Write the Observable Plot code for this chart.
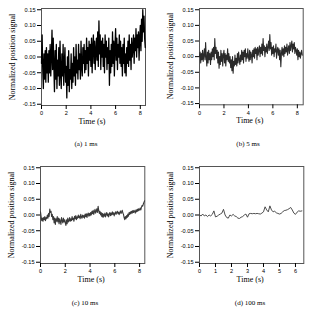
<!DOCTYPE html>
<html><head><meta charset="utf-8">
<script src="https://cdn.jsdelivr.net/npm/d3@7"></script>
<script src="https://cdn.jsdelivr.net/npm/@observablehq/plot@0.6"></script>
<style>
body{margin:0;background:#fff;}
#wrap{position:relative;width:319px;height:311px;overflow:hidden;background:#fff;}
.p{position:absolute;overflow:visible;}
.lbl{position:absolute;font-family:"Liberation Serif",serif;color:#000;white-space:nowrap;line-height:1;}
.cap{font-size:7px;transform:translate(-50%,-50%);}
.xl{font-size:8px;transform:translate(-50%,-50%);}
.yl{font-size:8px;transform:translate(-50%,-50%) rotate(-90deg);}
</style></head><body><div id="wrap"></div>
<script>
const yTicks = [-0.15, -0.10, -0.05, 0.00, 0.05, 0.10, 0.15];
const yLabel = "Normalized position signal";
const xLabel = "Time (s)";
const captions = ["(a) 1 ms", "(b) 5 ms", "(c) 10 ms", "(d) 100 ms"];
const xTicksA = [0, 2, 4, 6, 8];
const xTicksB = [0, 2, 4, 6, 8];
const xTicksC = [0, 2, 4, 6, 8];
const xTicksD = [0, 1, 2, 3, 4, 5, 6];
const dtA = 0.05, dtB = 0.05, dtC = 0.05, dtD = 0.1;

const valuesA = [
-0.02,0.07,-0.04,-0.10,0.01,-0.07,0.02,-0.08,0.03,-0.05,
0.01,-0.08,0.02,-0.05,0.04,-0.06,0.00,0.085,-0.04,0.06,
-0.03,-0.11,0.02,-0.07,0.04,-0.10,-0.01,-0.06,0.03,-0.09,
0.05,-0.05,-0.10,0.01,-0.06,0.04,-0.09,-0.02,0.03,-0.08,
-0.03,-0.13,0.00,-0.09,0.02,-0.11,-0.04,-0.07,0.01,-0.10,
-0.02,-0.08,0.03,-0.06,0.00,-0.09,0.04,-0.05,-0.01,-0.07,
0.04,-0.04,0.01,-0.07,0.05,-0.03,-0.06,0.03,-0.02,0.04,
-0.05,0.02,-0.04,0.06,-0.02,0.03,-0.06,0.05,-0.01,0.04,
-0.03,0.06,-0.05,0.03,0.07,-0.02,0.05,-0.04,0.02,0.06,
-0.01,0.08,-0.03,0.115,0.01,0.07,-0.04,0.05,0.00,0.06,
-0.03,0.04,-0.05,0.07,0.00,0.05,-0.04,0.03,-0.02,0.06,
-0.09,0.02,-0.05,0.04,-0.03,0.08,-0.02,0.05,-0.06,0.03,
0.09,-0.01,0.06,-0.04,0.04,0.00,0.07,-0.02,0.05,-0.03,
0.03,-0.06,0.04,-0.02,0.06,-0.05,0.01,-0.06,0.03,-0.02,
0.05,-0.03,0.07,-0.01,0.04,-0.04,0.06,0.00,0.03,0.07,
-0.02,0.06,0.02,0.09,0.00,0.07,0.03,0.08,-0.01,0.06,
0.10,0.02,0.12,0.05,0.15,0.08,0.13,0.06,0.03
];
const valuesB = [
0.00,0.015,-0.02,0.01,-0.01,0.02,-0.015,0.005,0.025,-0.01,
0.045,0.00,-0.03,0.015,-0.02,0.02,-0.01,0.01,-0.025,0.015,
-0.01,0.025,0.00,0.03,-0.01,0.058,0.01,0.03,-0.005,0.02,
-0.02,0.015,-0.037,0.00,-0.025,0.02,-0.015,0.01,-0.03,0.005,
0.02,-0.02,0.01,-0.03,0.005,-0.01,0.025,-0.015,0.01,-0.02,
0.00,-0.035,-0.01,-0.045,0.00,-0.053,-0.015,-0.03,0.005,-0.025,
-0.005,-0.03,0.01,-0.02,0.015,-0.01,-0.025,0.005,-0.015,0.02,
-0.01,0.015,-0.02,0.02,0.00,0.025,-0.015,0.01,-0.005,0.025,
0.00,-0.015,0.02,-0.01,0.015,0.005,-0.02,0.02,0.00,0.025,
-0.005,0.03,0.01,0.025,-0.01,0.03,0.005,0.02,0.035,0.00,
0.03,0.01,0.04,0.005,0.058,0.02,0.035,0.00,0.03,0.015,
0.04,0.01,0.03,0.05,0.02,0.071,0.025,0.045,0.005,0.03,
0.01,0.035,0.00,0.025,0.015,0.04,-0.005,0.02,0.03,0.005,
0.025,-0.01,0.02,-0.032,0.01,0.03,0.005,0.025,0.00,0.035,
0.01,0.03,0.015,0.04,0.005,0.025,0.035,0.01,0.045,0.02,
0.035,0.05,0.015,0.04,0.025,0.045,0.01,0.03,0.02,0.005,
0.025,-0.01,0.02,0.00,0.015,-0.005,0.01,0.02,0.005
];
const valuesC = [
0.010,-0.005,-0.018,-0.010,-0.020,-0.008,-0.015,-0.005,-0.018,-0.008,
-0.012,0.000,-0.010,0.005,-0.005,0.019,0.008,0.012,-0.005,0.002,
-0.015,-0.005,-0.025,-0.010,-0.030,-0.012,-0.020,-0.005,-0.022,-0.010,
-0.028,-0.012,-0.020,-0.030,-0.008,-0.018,-0.025,-0.010,-0.022,-0.015,
-0.025,-0.033,-0.015,-0.028,-0.010,-0.022,-0.018,-0.008,-0.020,-0.012,
-0.018,-0.005,-0.015,-0.010,-0.020,-0.004,-0.012,-0.002,-0.015,-0.006,
-0.010,0.000,-0.008,-0.003,-0.012,0.002,-0.006,-0.010,0.000,-0.007,
-0.002,-0.010,0.003,-0.005,0.004,-0.008,0.002,0.006,-0.004,0.005,
-0.002,0.008,0.000,0.012,0.004,0.015,0.002,0.010,0.018,0.006,
0.012,0.020,0.008,0.028,0.015,0.005,0.012,0.000,0.008,-0.005,
0.005,-0.008,0.003,-0.004,0.006,-0.006,0.002,0.008,-0.003,0.004,
-0.006,0.003,0.008,-0.002,0.006,0.000,0.010,0.002,0.007,-0.003,
0.005,0.010,0.002,0.008,0.012,0.004,0.009,0.001,0.007,0.013,
0.005,0.010,0.015,0.006,0.002,-0.008,-0.015,-0.005,-0.012,-0.002,
-0.008,0.003,-0.004,0.008,0.002,0.010,0.004,0.012,0.006,0.014,
0.008,0.015,0.010,0.006,0.016,0.010,0.018,0.012,0.020,0.014,
0.018,0.022,0.016,0.025,0.030,0.028,0.035,0.040,0.045
];
const valuesD = [
0.000,-0.003,0.003,-0.003,0.000,-0.005,0.000,-0.003,0.002,0.013,
-0.006,-0.004,0.000,0.003,0.006,0.018,0.000,-0.008,-0.010,0.000,
-0.003,0.002,-0.003,-0.005,-0.010,-0.011,-0.007,-0.005,0.000,0.003,
-0.007,0.004,0.005,0.004,0.005,0.004,0.005,0.004,0.003,0.006,
0.010,0.026,0.016,0.010,0.029,0.016,0.010,0.012,0.007,0.005,
0.003,0.005,0.010,0.014,0.015,0.017,0.020,0.024,0.016,0.006,
0.002,0.009,0.013,0.012,0.013
];

const wrap = document.getElementById("wrap");
const fmt = d => d.toFixed(2);

function addLabel(cls, text, x, y) {
  const el = document.createElement("div");
  el.className = "lbl " + cls;
  el.textContent = text;
  el.style.left = x + "px";
  el.style.top = y + "px";
  wrap.appendChild(el);
}

function panel(o) {
  const data = o.values.map((v, i) => ({t: i * o.dt, v}));
  const chart = Plot.plot({
    width: o.width, height: 128,
    marginLeft: o.mL, marginRight: o.mR, marginTop: 8, marginBottom: o.mB,
    style: {fontFamily: "Liberation Sans, Arial, sans-serif", fontSize: "5.6px", color: "#000", background: "transparent", overflow: "visible"},
    x: {domain: o.xDomain},
    y: {domain: [-0.154, 0.154]},
    marks: [
      Plot.frame({stroke: "#555", strokeWidth: 1}),
      Plot.axisY({ticks: yTicks, tickFormat: fmt, tickSize: 4, tickPadding: 2, label: null}),
      Plot.axisX({ticks: o.xTicks, tickFormat: d => String(d), tickSize: 4, tickPadding: 2, label: null}),
      Plot.line(data, {x: "t", y: "v", stroke: o.color, strokeWidth: o.sw})
    ]
  });
  chart.classList.add("p");
  chart.style.left = o.left + "px";
  chart.style.top = o.top + "px";
  wrap.appendChild(chart);
  const fl = o.left + o.mL, fr = o.left + o.width - o.mR;
  const ft = o.top + 8, fb = o.top + 128 - o.mB;
  addLabel("yl", yLabel, fl - 28.3, (ft + fb) / 2);
  addLabel("xl", xLabel, (fl + fr) / 2 - 1, fb + 17);
  addLabel("cap", o.cap, o.capX, o.capY);
}

panel({values: valuesA, dt: dtA, xDomain: [0, 8.42], xTicks: xTicksA, color: "#000", sw: 1.3,
  left: 0, top: 0, width: 160, mL: 41, mR: 15, mB: 23, cap: captions[0], capX: 86, capY: 144});
panel({values: valuesB, dt: dtB, xDomain: [0, 8.48], xTicks: xTicksB, color: "#2a2a2a", sw: 1.1,
  left: 160, top: 0, width: 159, mL: 39, mR: 16.3, mB: 23.7, cap: captions[1], capX: 248, capY: 144});
panel({values: valuesC, dt: dtC, xDomain: [0, 8.42], xTicks: xTicksC, color: "#3a3a3a", sw: 1.1,
  left: 0, top: 158, width: 160, mL: 40, mR: 15.7, mB: 23, cap: captions[2], capX: 85, capY: 303});
panel({values: valuesD, dt: dtD, xDomain: [0, 6.52], xTicks: xTicksD, color: "#3a3a3a", sw: 0.9,
  left: 160, top: 158, width: 159, mL: 39, mR: 15.7, mB: 23, cap: captions[3], capX: 250, capY: 303});
</script>
</body></html>
